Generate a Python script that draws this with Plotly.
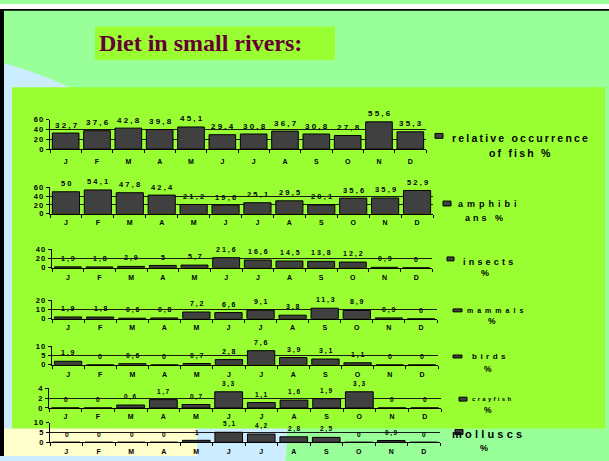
import plotly.graph_objects as go

W, H = 609, 461

# ---------------- data ----------------
months = ["J", "F", "M", "A", "M", "J", "J", "A", "S", "O", "N", "D"]
fish = [32.7, 37.6, 42.8, 39.8, 45.1, 29.4, 30.8, 36.7, 30.8, 27.8, 55.6, 35.3]
amphibians = [50, 54.1, 47.8, 42.4, 21.2, 19.6, 25.1, 29.5, 20.1, 35.6, 35.9, 52.9]
insects = [1.9, 1.8, 2.9, 5, 5.7, 21.6, 16.6, 14.5, 13.8, 12.2, 0.9, 0]
mammals = [1.9, 1.8, 0.6, 0.8, 7.2, 6.6, 9.1, 3.8, 11.3, 8.9, 0.9, 0]
birds = [1.9, 0, 0.6, 0, 0.7, 2.8, 7.6, 3.9, 3.1, 1.1, 0, 0]
crayfish = [0, 0, 0.6, 1.7, 0.7, 3.3, 1.1, 1.6, 1.9, 3.3, 0, 0]
molluscs = [0, 0, 0, 0, 1, 5.1, 4.2, 2.8, 2.5, 0, 0.9, 0]

fish_ticks = [0, 20, 40, 60]
amphibian_ticks = [0, 20, 40, 60]
insect_ticks = [0, 20, 40]
mammal_ticks = [0, 10, 20]
bird_ticks = [0, 5, 10]
crayfish_ticks = [0, 2, 4]
mollusc_ticks = [0, 5, 10]

legend_line1 = ["relative occurrence", "amphibi", "insects", "mammals", "birds", "crayfish", "molluscs"]
legend_line2 = ["of fish %", "ans %", "%", "%", "%", "%", "%"]

title_text = "Diet in small rivers:"

series = [fish, amphibians, insects, mammals, birds, crayfish, molluscs]
tick_sets = [fish_ticks, amphibian_ticks, insect_ticks, mammal_ticks,
             bird_ticks, crayfish_ticks, mollusc_ticks]

# ---------------- geometry (pixels) ----------------
geom = [
    dict(x0=50, x1=426, yt=118, yb=148, fs=8, ls=2.2, mso=5,
         box=(435, 132, 443, 137), l1=(520, 137, 10.5, 2.2), l2=(520, 152, 10.5, 2.2)),
    dict(x0=50, x1=433, yt=187, yb=214, fs=7.5, ls=2.2, mso=2,
         box=(443, 201, 451, 206), l1=(487, 204, 9, 4), l2=(484, 218, 9, 3)),
    dict(x0=52, x1=432, yt=250, yb=269, fs=7, ls=2, mso=3,
         box=(447, 258, 454, 262), l1=(488, 263, 9, 3.2), l2=(485, 274, 9, 0)),
    dict(x0=52, x1=437, yt=302, yb=321, fs=7, ls=1.8, mso=2,
         box=(453, 311, 462, 314), l1=(495, 313, 7, 4), l2=(492, 323, 8.5, 0)),
    dict(x0=52, x1=438, yt=349, yb=368, fs=7, ls=1.8, mso=3,
         box=(453, 358, 462, 361), l1=(489, 360, 8, 3.5), l2=(488, 372, 8.5, 0)),
    dict(x0=49, x1=441, yt=392, yb=412, fs=6.5, ls=1.6, mso=2,
         box=(459, 401, 467, 405), l1=(491, 403, 6, 2.3), l2=(488, 414, 8.5, 0)),
    dict(x0=50, x1=440, yt=427, yb=447, fs=6.5, ls=1.6, mso=2,
         box=(455, 434, 463, 439), l1=(487, 439, 11, 3.2), l2=(484, 453, 9, 0)),
]


def X(px):
    return px / W


def Y(py):
    return 1 - py / H


def spaced(s, sp):
    if sp:
        return '<span style="letter-spacing:%.1fpx">%s</span>' % (sp, s)
    return s


def fmt(v):
    return ("%g" % v).replace(".", ",")


FONT = "Liberation Sans, Arial, sans-serif"

fig = go.Figure()
layout = {}
annotations = []
shapes = []


def rect(x0, y0, x1, y1, fill, layer="below", line=None):
    return dict(type="rect", xref="paper", yref="paper",
                x0=X(x0), x1=X(x1), y0=Y(y1), y1=Y(y0),
                fillcolor=fill, layer=layer,
                line=dict(width=0) if line is None else line)


shapes.append(rect(0, 0, W, 5, "white"))
shapes.append(dict(type="circle", xref="paper", yref="paper",
                   x0=X(-100 - 387), x1=X(-100 + 387),
                   y0=Y(433 + 387), y1=Y(433 - 387),
                   fillcolor="#CCECFF", line=dict(width=0), layer="below"))
shapes.append(rect(4, 433, 197, H, "#FFFFCC"))
shapes.append(rect(12, 85, 605, 433, "#99FF33"))
shapes.append(rect(95, 23, 335, 57, "#99FF33"))
shapes.append(rect(0, 5, W, 7, "black"))
shapes.append(rect(0, 5, 4, H, "black"))

annotations.append(dict(xref="paper", yref="paper", x=X(97), y=Y(40),
                        xanchor="left", yanchor="middle", showarrow=False,
                        text="<b>%s</b>" % title_text,
                        font=dict(family="Liberation Serif, Times New Roman, serif",
                                  size=24, color="#660033")))

for i, (vals, ticks, g) in enumerate(zip(series, tick_sets, geom)):
    n = "" if i == 0 else str(i + 1)
    fig.add_trace(go.Bar(
        x=list(range(len(months))), y=vals,
        xaxis="x" + n, yaxis="y" + n,
        marker=dict(color="#404040", line=dict(color="black", width=1)),
        showlegend=False, hoverinfo="skip"))

    layout["xaxis" + n] = dict(
        domain=[X(g["x0"]), X(g["x1"])], anchor="y" + n,
        range=[-0.5, len(months) - 0.5],
        tickmode="array", tickvals=list(range(len(months))),
        ticktext=["<b>%s</b>" % m for m in months],
        ticks="", showline=True, linecolor="black", linewidth=1,
        showgrid=False, zeroline=False, fixedrange=True,
        ticklabelstandoff=g["mso"],
        tickfont=dict(family=FONT, size=7, color="black"),
        minor=dict(ticks="outside", ticklen=3, tickcolor="black", tickwidth=1,
                   tickmode="array",
                   tickvals=[k - 0.5 for k in range(len(months) + 1)],
                   showgrid=False))
    layout["yaxis" + n] = dict(
        domain=[Y(g["yb"]), Y(g["yt"])], anchor="x" + n,
        range=[0, ticks[-1]],
        tickmode="array", tickvals=ticks,
        ticktext=["<b>%s</b>" % spaced(str(t), 1.2) for t in ticks],
        ticks="outside", ticklen=3, tickcolor="black",
        showline=True, linecolor="black", linewidth=1,
        showgrid=True, gridcolor="#1a1a1a", gridwidth=1,
        zeroline=False, fixedrange=True,
        tickfont=dict(family=FONT, size=7.5, color="black"))

    for k, v in enumerate(vals):
        annotations.append(dict(
            xref="x" + n, yref="y" + n, x=k, y=v, yshift=8, xshift=g["ls"] / 2,
            showarrow=False, xanchor="center", yanchor="middle",
            text="<b>%s</b>" % spaced(fmt(v), g["ls"]),
            font=dict(family=FONT, size=g["fs"], color="black")))

    bx0, by0, bx1, by1 = g["box"]
    shapes.append(rect(bx0, by0, bx1, by1, "#404040", layer="above",
                       line=dict(color="black", width=1)))
    for (cx, cy, fsz, sp), txt in ((g["l1"], legend_line1[i]), (g["l2"], legend_line2[i])):
        annotations.append(dict(
            xref="paper", yref="paper", x=X(cx + sp / 2), y=Y(cy),
            xanchor="center", yanchor="middle", showarrow=False,
            text="<b>%s</b>" % spaced(txt, sp),
            font=dict(family=FONT, size=fsz, color="black")))

fig.update_layout(
    width=W, height=H, autosize=False,
    margin=dict(l=0, r=0, t=0, b=0),
    paper_bgcolor="#99FF99", plot_bgcolor="rgba(0,0,0,0)",
    bargap=0.15, shapes=shapes, annotations=annotations,
    showlegend=False, **layout)

fig.write_html("out.html",
               config={"displayModeBar": False, "staticPlot": True},
               post_script="document.body.style.margin='0';"
                           "document.body.style.overflow='hidden';")
